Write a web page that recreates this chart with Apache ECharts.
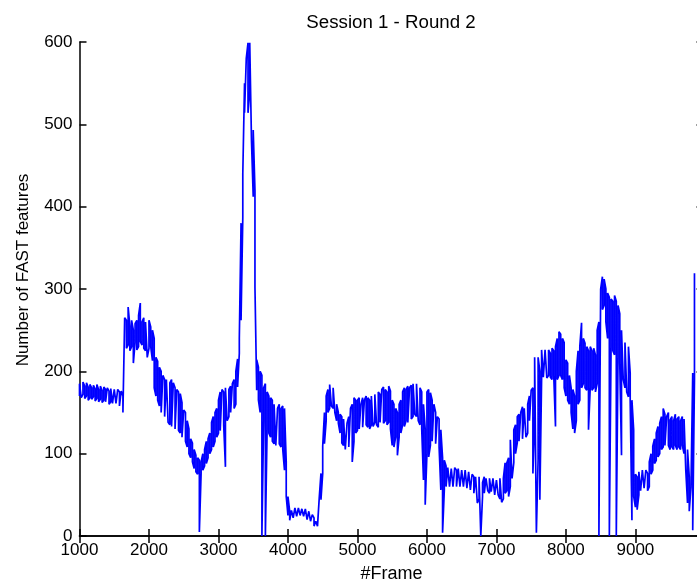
<!DOCTYPE html>
<html>
<head>
<meta charset="utf-8">
<script src="https://cdn.jsdelivr.net/npm/echarts@6/dist/echarts.min.js"></script>
<style>html,body{margin:0;padding:0;background:#fff}#c{width:697px;height:583px}</style>
</head>
<body>
<div id="c"></div>
<script>
// Per-column envelope of the noisy trace, sampled every 25 frames from frame 1000.
// lo = bottom of the band at that frame, hi = top of the band (both read from the reference).
const frameStart = 1000;
const frameStep = 25;
const lo1000 = [170,168,172,167,170,165,168,166,169,164,167,163,166,162,165,163,164,160,163,161,
                162,161,160,158,157,150,150,228,232,225,230,210,235,226,230,236,232,228,225,217];
const hi1000 = [185,183,187,182,186,181,184,180,183,179,184,178,182,177,181,178,180,176,179,177,
                178,176,178,175,176,170,265,262,278,255,262,250,258,262,268,283,260,265,260,262];
const lo2000 = [228,230,213,180,170,165,158,150,148,145,145,138,135,133,133,130,130,128,125,120,
                120,115,108,100,95,90,82,78,75,5,76,80,85,88,95,100,105,108,115,120];
const hi2000 = [262,254,250,240,217,212,205,200,195,190,190,192,186,190,186,180,178,175,173,162,
                153,150,140,130,118,113,105,98,95,92,90,100,105,115,118,125,138,145,150,155];
const lo3000 = [125,128,130,135,84,140,145,150,148,155,160,181,222,262,387,514,514,514,540,480,
                412,302,177,165,150,0,140,0,130,125,120,115,112,110,108,112,108,105,80,48];
const hi3000 = [165,175,178,175,180,182,178,182,185,190,200,215,240,380,440,550,580,599,599,599,
                493,420,214,205,200,195,180,185,175,170,168,165,160,158,155,160,155,158,155,90];
const lo4000 = [25,19,20,22,22,24,24,25,23,24,22,20,18,18,16,12,10,12,12,44,
                76,112,140,150,155,158,155,150,140,137,125,113,110,105,105,108,110,90,115,125];
const hi4000 = [48,30,31,33,34,33,34,34,33,34,33,31,30,28,26,22,18,20,46,76,
                109,150,170,178,184,184,180,178,160,150,148,145,142,140,137,145,155,160,168,165];
const lo5000 = [128,130,128,132,130,135,132,130,135,133,138,135,132,138,140,137,140,135,138,130,
                110,108,120,98,120,125,135,133,140,138,140,142,145,148,145,140,135,130,68,38];
const hi5000 = [165,168,160,168,165,170,168,165,170,168,172,170,175,172,178,181,178,175,182,176,
                165,160,155,150,160,165,175,180,178,182,180,183,185,187,185,183,180,175,160,130];
const lo6000 = [100,96,110,115,115,112,110,108,56,4,56,60,62,60,62,60,62,60,62,60,
                62,60,60,58,58,56,55,52,52,40,45,0,48,52,52,55,52,54,52,50];
const hi6000 = [175,178,174,165,160,150,145,142,129,95,92,85,83,82,82,80,83,80,82,80,
                80,78,80,78,78,76,75,72,72,70,72,70,65,72,70,72,70,72,70,72];
const lo7000 = [48,50,45,41,45,52,55,48,60,70,89,100,113,115,117,118,117,120,125,140,
                140,76,145,4,93,44,190,193,195,192,195,193,190,195,133,190,195,195,190,180];
const hi7000 = [68,70,70,68,70,89,89,95,117,117,129,135,145,148,150,157,155,157,160,170,
                177,180,217,215,217,200,226,225,226,224,226,222,228,225,230,240,248,245,240,235];
const lo8000 = [170,165,160,150,130,125,140,160,165,180,185,180,177,129,180,177,180,175,185,0,
                0,275,280,260,240,0,230,225,220,0,217,210,98,190,180,175,169,165,19,48];
const hi8000 = [214,210,195,180,178,170,200,225,230,259,240,234,230,225,230,225,228,220,250,260,
                300,315,312,300,295,290,288,285,292,285,280,270,250,248,235,234,230,198,165,129];
const lo9000 = [35,32,50,55,56,58,56,55,60,75,80,88,92,96,100,105,108,110,108,110,
                105,108,105,110,105,108,105,110,100,80,40,30,28,7,190];
const hi9000 = [75,72,78,80,80,78,80,76,90,100,109,118,125,133,137,145,155,148,145,150,
                141,145,140,148,142,145,140,145,142,140,105,72,60,198,319];

const xTicks = [1000,2000,3000,4000,5000,6000,7000,8000,9000];
const yTicks = [0,100,200,300,400,500,600];

const loAll = [].concat(lo1000, lo2000, lo3000, lo4000, lo5000, lo6000, lo7000, lo8000, lo9000);
const hiAll = [].concat(hi1000, hi2000, hi3000, hi4000, hi5000, hi6000, hi7000, hi8000, hi9000);
// Snake through each column: bottom->top, then top->bottom on the next one.
const seriesData = [];
loAll.forEach((lo, i) => {
  const f = frameStart + i * frameStep;
  if (i % 2 === 0) { seriesData.push([f, lo], [f, hiAll[i]]); }
  else { seriesData.push([f, hiAll[i]], [f, lo]); }
});

const FONT = "'Liberation Sans', Arial, Helvetica, sans-serif";
const chart = echarts.init(document.getElementById('c'), null, {renderer: 'canvas'});
const axisLine = {show: true, lineStyle: {color: '#000', width: 1.5}};
const axisTick = {show: true, inside: true, length: 7, lineStyle: {color: '#000', width: 1.5}};
chart.setOption({
  animation: false,
  backgroundColor: '#fff',
  title: {
    text: 'Session 1 - Round 2',
    left: 386, top: 8, textAlign: 'center',
    textStyle: {fontFamily: FONT, fontSize: 18.7, fontWeight: 'normal', color: '#000'}
  },
  graphic: [{
    type: 'text', x: 23, y: 270, rotation: Math.PI / 2,
    style: {text: 'Number of FAST features', fontFamily: FONT, fontSize: 17,
      fill: '#000', align: 'center', verticalAlign: 'middle'}
  }],
  grid: {left: 79.5, top: 42, width: 624, height: 494, containLabel: false, outerBoundsMode: 'none'},
  xAxis: [{
    type: 'value', position: 'bottom', min: 1000, max: 9980, interval: 1000,
    axisLine, axisTick, splitLine: {show: false},
    axisLabel: {fontFamily: FONT, fontSize: 17, color: '#000', margin: 6,
      formatter: v => xTicks.includes(v) ? String(v) : ''},
    name: '#Frame', nameLocation: 'middle', nameGap: 29,
    nameTextStyle: {fontFamily: FONT, fontSize: 18, color: '#000'}
  }, {
    type: 'value', position: 'top', min: 1000, max: 9980, interval: 1000,
    axisLine, axisTick, axisLabel: {show: false}, splitLine: {show: false}
  }],
  yAxis: [{
    type: 'value', position: 'left', min: 0, max: 600, interval: 100,
    axisLine, axisTick, splitLine: {show: false},
    axisLabel: {fontFamily: FONT, fontSize: 17, color: '#000', margin: 7,
      formatter: v => yTicks.includes(v) ? String(v) : ''}
  }, {
    type: 'value', position: 'right', min: 0, max: 600, interval: 100,
    axisLine, axisTick, axisLabel: {show: false}, splitLine: {show: false}
  }],
  series: [{
    type: 'line', xAxisIndex: 0, yAxisIndex: 0, data: seriesData,
    showSymbol: false, symbol: 'none',
    lineStyle: {color: '#0000ff', width: 1.7}, itemStyle: {color: '#0000ff'}
  }]
});
</script>
</body>
</html>
